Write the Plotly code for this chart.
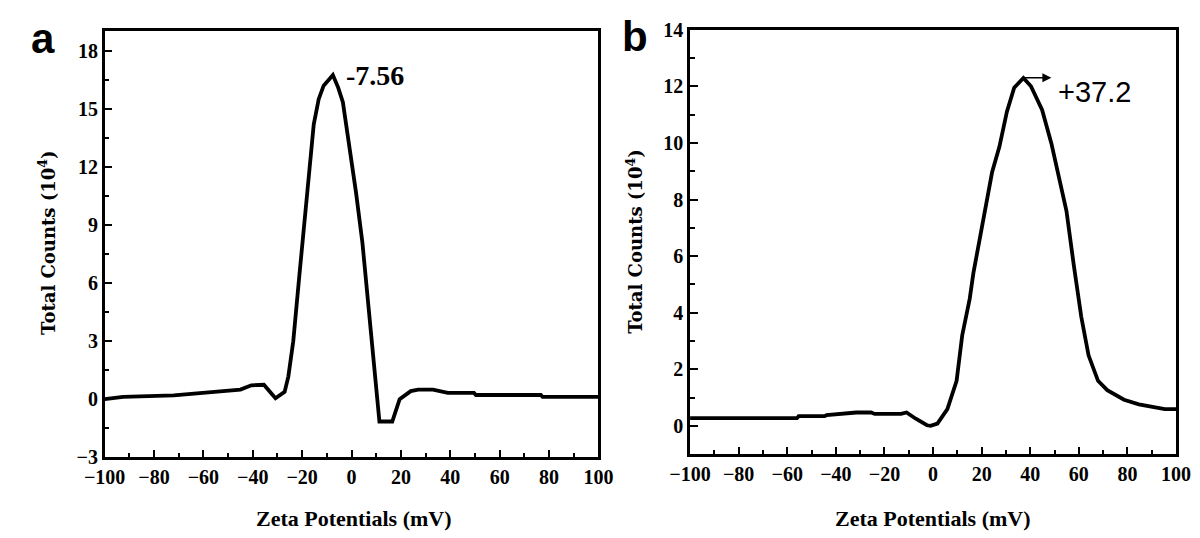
import plotly.graph_objects as go

# ---- Data (panel a) ----
zeta_a = [-100, -92.5, -72, -61, -52.6, -45, -40.6, -35.5, -30.8, -27.1, -25.6, -23.6,
          -21.2, -19.2, -17.2, -15.3, -13.3, -11.3, -7.56, -5.4, -3.5, -0.9, 1.8, 4.4,
          6.4, 9, 11.3, 16.5, 19.5, 24, 27, 33, 39, 49.6, 50.4, 76.7, 77.4, 100]
counts_a = [0.0, 0.12, 0.2, 0.33, 0.45, 0.5, 0.72, 0.75, 0.05, 0.38, 1.17, 3.0,
            6.3, 8.9, 11.5, 14.2, 15.5, 16.2, 16.75, 16.1, 15.35, 13.2, 10.7, 8.1,
            5.4, 1.9, -1.15, -1.15, 0.0, 0.42, 0.5, 0.5, 0.33, 0.33, 0.22, 0.22, 0.12, 0.12]

# ---- Data (panel b) ----
zeta_b = [-100, -56, -55.3, -44.6, -43.8, -39.2, -31.6, -25.5, -24, -13.2, -10.9, -7.1,
          -2.5, -1.0, 1.8, 5.9, 9.7, 12, 15.1, 16.6, 20.4, 24.3, 27.3, 30.4, 33.4, 37.2,
          40.3, 44.9, 48.7, 52.6, 54.9, 57.9, 61, 64, 67.9, 71.7, 78.6, 84.7, 90.8, 95.4, 100]
counts_b = [0.28, 0.28, 0.35, 0.35, 0.39, 0.43, 0.48, 0.48, 0.43, 0.43, 0.48, 0.26,
            0.03, 0.01, 0.09, 0.6, 1.6, 3.2, 4.5, 5.4, 7.16, 8.96, 9.86, 11.1, 11.95, 12.29,
            12.0, 11.16, 9.98, 8.5, 7.6, 5.7, 3.86, 2.5, 1.6, 1.27, 0.93, 0.77, 0.68, 0.6, 0.6]

peak_a_label = "-7.56"
peak_b_label = "+37.2"
x_title = "Zeta Potentials (mV)"
y_title = "Total Counts (10<sup>4</sup>)"

fig = go.Figure()
fig.add_trace(go.Scatter(x=zeta_a, y=counts_a, mode="lines",
                         line=dict(color="black", width=3.8), xaxis="x", yaxis="y",
                         showlegend=False))
fig.add_trace(go.Scatter(x=zeta_b, y=counts_b, mode="lines",
                         line=dict(color="black", width=3.8), xaxis="x2", yaxis="y2",
                         showlegend=False))

tickfont = dict(family="Liberation Serif", size=20, color="black", weight="bold")
common = dict(showgrid=False, zeroline=False, showline=True, linecolor="black",
              linewidth=2.5, mirror=True, ticks="inside", ticklen=8, tickwidth=2,
              tickcolor="black", tickfont=tickfont)

W, H = 1200, 538
fig.update_layout(
    width=W, height=H, margin=dict(l=0, r=0, t=0, b=0),
    paper_bgcolor="white", plot_bgcolor="white",
    xaxis=dict(domain=[78 / W, 587 / W], range=[-100, 100], dtick=20, anchor="y",
               minor=dict(dtick=10, ticks="inside", ticklen=5, tickwidth=2, tickcolor="black"),
               **common),
    yaxis=dict(domain=[1 - 457 / H, 1 - 13 / H], range=[-3, 19], tickvals=[-3, 0, 3, 6, 9, 12, 15, 18],
               anchor="x",
               minor=dict(tickvals=[-1.5, 1.5, 4.5, 7.5, 10.5, 13.5, 16.5], ticks="inside",
                          ticklen=5, tickwidth=2, tickcolor="black"),
               **common),
    xaxis2=dict(domain=[681.5 / W, 1182.5 / W], range=[-100, 100], dtick=20, anchor="y2",
                minor=dict(dtick=10, ticks="inside", ticklen=5, tickwidth=2, tickcolor="black"),
                **common),
    yaxis2=dict(domain=[1 - 454 / H, 1 - 11 / H], range=[-1, 14], tickvals=list(range(0, 15, 2)),
                anchor="x2",
                minor=dict(tickvals=[-1, 1, 3, 5, 7, 9, 11, 13], ticks="inside",
                           ticklen=5, tickwidth=2, tickcolor="black"),
                **common),
)

ann = []
# panel letters
ann.append(dict(text="a", x=14 / W, y=1 - 20 / H, xref="paper", yref="paper", showarrow=False,
                xanchor="center", yanchor="middle",
                font=dict(family="Liberation Sans", size=42, color="black", weight="bold")))
ann.append(dict(text="b", x=625 / W, y=1 - 18 / H, xref="paper", yref="paper", showarrow=False,
                xanchor="center", yanchor="middle",
                font=dict(family="Liberation Sans", size=42, color="black", weight="bold")))
# axis titles
for xc, yc in [(19, 233), (624, 232)]:
    ann.append(dict(text=y_title, x=xc / W, y=1 - yc / H, xref="paper", yref="paper",
                    showarrow=False, textangle=-90, xanchor="center", yanchor="middle",
                    font=dict(family="DejaVu Serif", size=18, color="black", weight="bold")))
for xc in [335, 932]:
    ann.append(dict(text=x_title, x=xc / W, y=1 - 521 / H, xref="paper", yref="paper",
                    showarrow=False, xanchor="center", yanchor="middle",
                    font=dict(family="Liberation Serif", size=22, color="black", weight="bold")))
# peak labels
ann.append(dict(text=peak_a_label, x=-3.0, y=16.7, xref="x", yref="y", showarrow=False,
                xanchor="left", yanchor="middle",
                font=dict(family="Liberation Serif", size=28, color="black", weight="bold")))
ann.append(dict(text="", x=48.7, y=12.3, ax=37.2, ay=12.3, xref="x2", yref="y2",
                axref="x2", ayref="y2", showarrow=True, arrowhead=2, arrowsize=1.2,
                arrowwidth=1.5, arrowcolor="black"))
ann.append(dict(text=peak_b_label, x=50.7, y=11.8, xref="x2", yref="y2", showarrow=False,
                xanchor="left", yanchor="middle",
                font=dict(family="Liberation Sans", size=29, color="black")))
fig.update_layout(annotations=ann)

fig.write_html("out.html")
